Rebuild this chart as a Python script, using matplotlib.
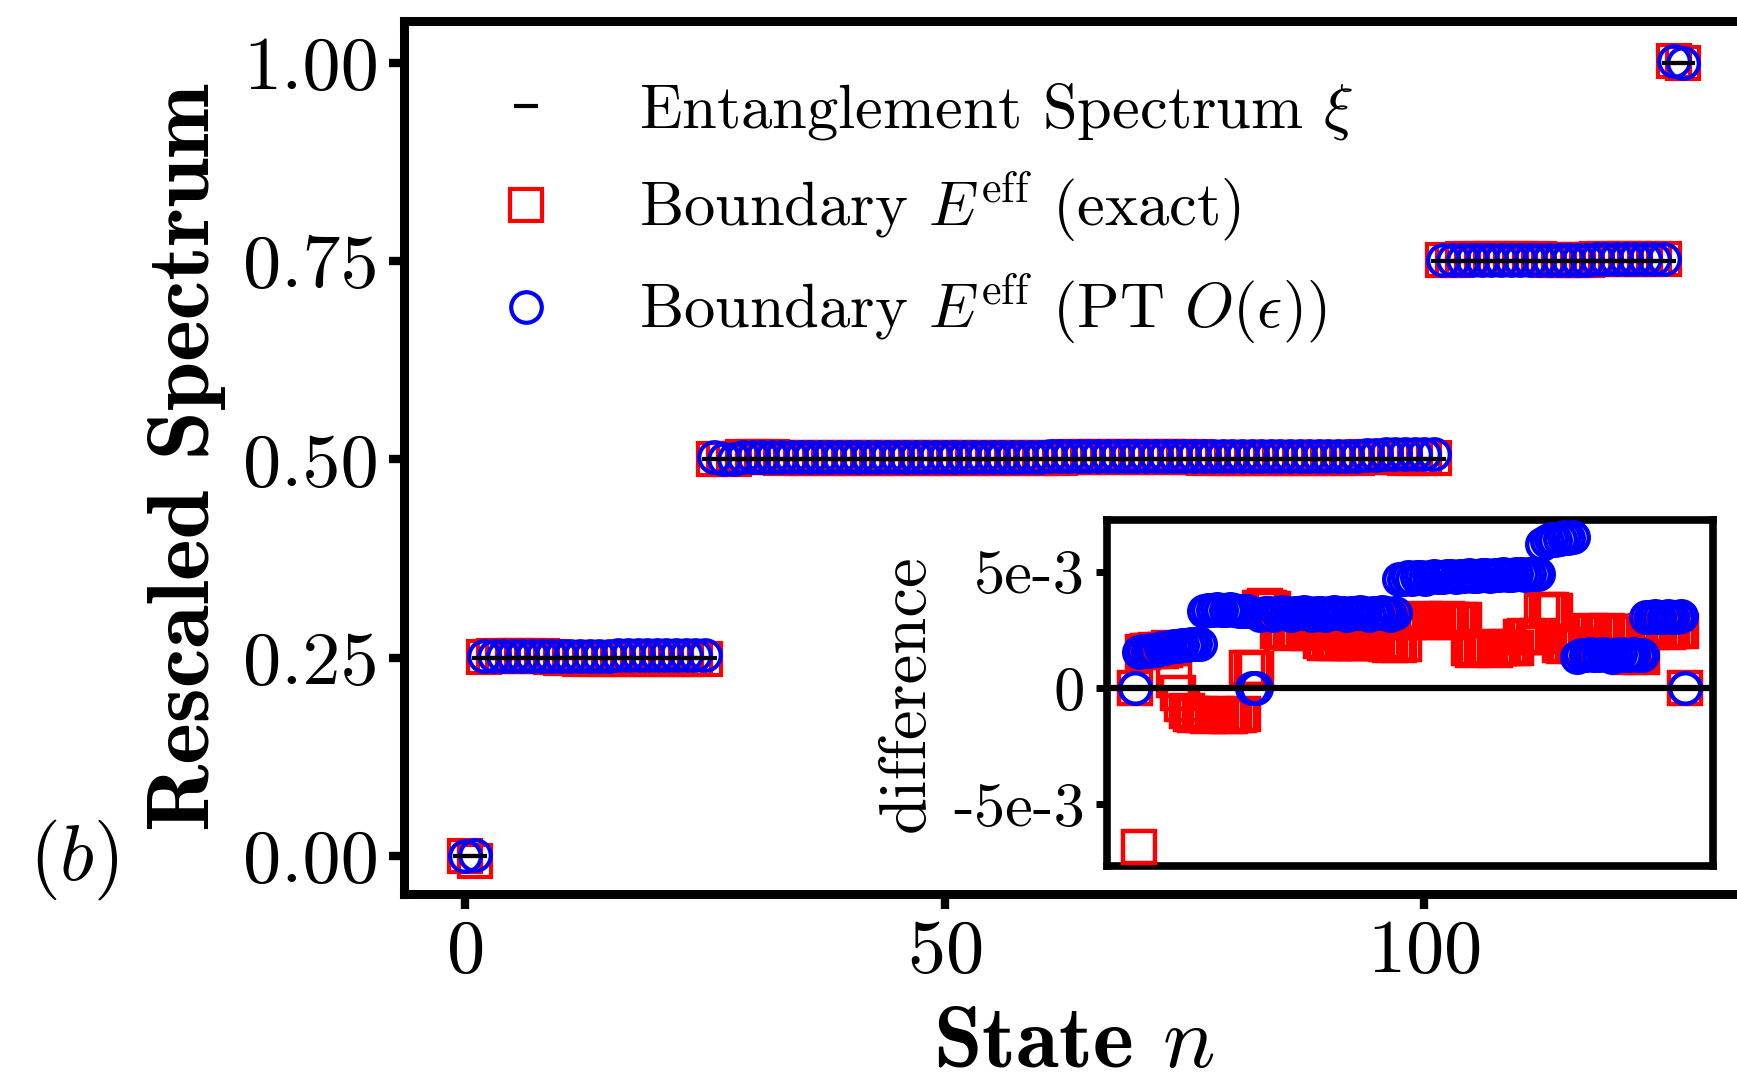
import numpy as np
import matplotlib
matplotlib.use('Agg')
import matplotlib.pyplot as plt
from matplotlib.ticker import FormatStrFormatter

plt.rcParams['font.family'] = 'cmr10'
plt.rcParams['mathtext.fontset'] = 'cm'
plt.rcParams['axes.unicode_minus'] = False
plt.rcParams['axes.formatter.use_mathtext'] = True

# rescaled entanglement spectrum, one value per state n = 0..127
xi = np.array([0.0] * 2 + [0.25] * 24 + [0.5] * 76 + [0.75] * 24 + [1.0] * 2)
states = np.arange(len(xi))

# E_eff - xi, in units of 1e-3
diff_exact = np.array([
    0.0, -6.85,
    1.55, 1.60, 1.60, 1.65, 1.60, 1.65, 1.70,
    0.35, -0.20, -0.70, -1.00,
    -1.10, -1.15, -1.10, -1.15, -1.20, -1.15, -1.10, -1.15, -1.20, -1.20, -1.15, -1.15, -1.10,
    0.85, 0.85, 0.80,
    3.45, 3.50, 3.45, 3.40,
    2.45, 2.40, 2.40, 2.35, 2.40, 2.45, 2.40, 2.35, 2.40, 2.40,
    2.00, 1.95, 2.00, 1.95, 1.95, 2.00, 2.00, 1.95, 1.95, 2.00, 1.95, 2.00, 2.00, 1.95, 2.00,
    1.90, 1.85, 1.90, 1.85, 1.90,
    2.85, 2.90, 2.90, 2.85, 2.95, 2.90, 2.85, 2.90, 2.90, 2.95, 2.90, 2.85, 2.90, 2.90,
    1.70, 1.65, 1.70, 1.70, 1.75, 1.70, 1.65, 1.70, 1.70, 1.75, 1.70, 1.70,
    2.20, 2.25, 2.20, 2.20, 2.25,
    3.30, 3.35, 3.35, 3.30,
    1.85, 1.80, 1.85, 1.85, 1.80, 1.85,
    2.40, 2.45, 2.40, 2.35, 2.40, 2.45, 2.40, 2.40, 2.35,
    1.40, 1.35, 1.40, 1.40, 1.35,
    2.45, 2.40, 2.45, 2.50, 2.45, 2.40, 2.45, 2.50, 2.45,
    0.0,
]) * 1e-3

diff_pt = np.array([
    0.0,
    1.55, 1.60, 1.60, 1.65, 1.65, 1.70, 1.70, 1.75, 1.80, 1.80, 1.85, 1.85, 1.90, 1.90, 1.90,
    3.30, 3.35, 3.35, 3.40, 3.35, 3.35, 3.40, 3.35, 3.30, 3.30, 3.30,
    0.0, 0.0,
    3.15, 3.20, 3.20, 3.15, 3.20, 3.25, 3.20, 3.15,
    3.20, 3.20, 3.25, 3.20, 3.15, 3.20, 3.20, 3.15,
    3.20, 3.25, 3.20, 3.20, 3.15, 3.20, 3.20, 3.25,
    3.20, 3.15, 3.20, 3.20, 3.25, 3.20, 3.15, 3.20,
    4.70, 4.70, 4.75, 4.70, 4.75, 4.75, 4.70, 4.75, 4.80, 4.75, 4.75,
    4.80, 4.80, 4.75, 4.80, 4.80, 4.85, 4.80, 4.80, 4.85, 4.85, 4.80,
    4.85, 4.85, 4.90, 4.85, 4.85, 4.90, 4.90, 4.85, 4.90, 4.90, 4.90,
    6.20, 6.30, 6.40, 6.35, 6.40, 6.50, 6.45, 6.50,
    1.35, 1.40, 1.40, 1.45, 1.40, 1.40, 1.45, 1.40,
    1.35, 1.40, 1.45, 1.40, 1.40, 1.45, 1.40, 1.40,
    3.05, 3.05, 3.10, 3.05, 3.05, 3.10, 3.05, 3.05, 3.10,
    0.0,
]) * 1e-3

xticks = [0, 50, 100]
yticks = [0.0, 0.25, 0.5, 0.75, 1.0]
inset_yticks = [-5e-3, 0.0, 5e-3]
inset_yticklabels = ['-5e-3', '0', '5e-3']

fig = plt.figure(figsize=(17.37, 10.76), dpi=100)

# main panel (right edge runs past the figure border)
ax = fig.add_axes([0.2326, 0.1691, 0.7715, 0.8114])
ax.plot(states, xi + diff_exact, 's', ms=23, mfc='none', mec='red', mew=3,
        label=r'Boundary $E^{\mathrm{eff}}$ (exact)', zorder=3)
ax.plot(states, xi + diff_pt, 'o', ms=22, mfc='none', mec='blue', mew=3,
        label=r'Boundary $E^{\mathrm{eff}}$ (PT $O(\epsilon)$)', zorder=4)
ax.plot(states, xi, '_', ms=17, mew=3, color='black',
        label=r'Entanglement Spectrum $\xi$', zorder=5)

ax.set_xlim(-6.35, 133.35)
ax.set_ylim(-0.048, 1.053)
ax.set_xticks(xticks)
ax.set_yticks(yticks)
ax.yaxis.set_major_formatter(FormatStrFormatter('%.2f'))
ax.tick_params(direction='out', length=11, width=6, labelsize=55, pad=7)
for s in ax.spines.values():
    s.set_linewidth(6.5)
ax.set_ylabel('Rescaled Spectrum', fontfamily='cmb10', fontsize=64, labelpad=12)
ax.set_xlabel('State $n$', fontfamily='cmb10', fontsize=63, labelpad=14)

handles, labels = ax.get_legend_handles_labels()
order = [2, 0, 1]
leg = ax.legend([handles[i] for i in order], [labels[i] for i in order],
                loc='upper left', bbox_to_anchor=(495 / 1737, 1 - 81 / 1076),
                bbox_transform=fig.transFigure, frameon=False, fontsize=45,
                numpoints=1, handlelength=1.0, handletextpad=1.3,
                labelspacing=0.44, borderpad=0, borderaxespad=0)

fig.text(74 / 1737, 1 - 860 / 1076, '$(b)$', fontsize=57, ha='center', va='center')

# inset: difference to the entanglement spectrum
ins = fig.add_axes([0.6373, 0.1952, 0.3489, 0.3216])
ins.plot(states, diff_exact, 's', ms=23, mfc='none', mec='red', mew=3.2, zorder=3)
ins.plot(states, diff_pt, 'o', ms=22, mfc='none', mec='blue', mew=3.2, zorder=4)
ins.axhline(0, color='black', lw=4.5, zorder=5)
ins.set_xlim(-6.35, 133.35)
ins.set_ylim(-7.65e-3, 7.22e-3)
ins.set_xticks([])
ins.set_yticks(inset_yticks)
ins.set_yticklabels(inset_yticklabels)
ins.tick_params(direction='out', length=8, width=5, labelsize=45, pad=8)
for s in ins.spines.values():
    s.set_linewidth(5.5)
ins.set_ylabel('difference', fontsize=48, labelpad=12)

fig.savefig('out.png', dpi=100)
